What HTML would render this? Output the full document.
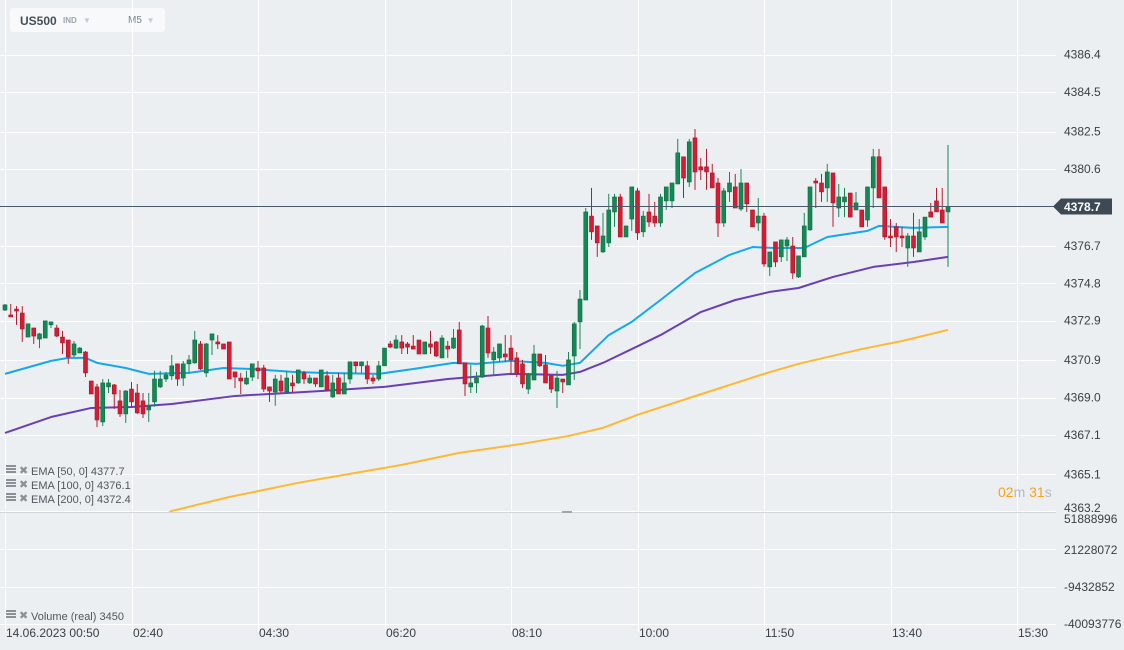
<!DOCTYPE html>
<html><head><meta charset="utf-8">
<style>
html,body{margin:0;padding:0;background:#eceff2;}
body{width:1124px;height:650px;overflow:hidden;position:relative;font-family:"Liberation Sans",sans-serif;}
svg{position:absolute;left:0;top:0;}
.topbar{position:absolute;left:10px;top:8px;width:155px;height:24px;background:#f8f9fa;border-radius:3px;}
</style></head>
<body>
<div class="topbar">
  <span style="position:absolute;left:10px;top:6px;font-size:12px;font-weight:bold;color:#454f59;">US500</span>
  <span style="position:absolute;left:53px;top:8px;font-size:8px;font-weight:bold;color:#9aa4ae;">IND <span style="color:#c5cbd1;font-size:8px;margin-left:4px;">▼</span></span>
  <span style="position:absolute;left:118px;top:7px;font-size:10px;color:#7a848e;">M5 <span style="color:#c5cbd1;font-size:8px;margin-left:2px;">▼</span></span>
</div>
<svg id="chart" width="1124" height="650"></svg>
<script>
const opens=[4373.44,4373.19,4373.49,4373.29,4372.07,4372.53,4371.97,4372.02,4372.69,4372.53,4372.07,4371.92,4371.16,4371.26,4371.31,4369.84,4369.54,4367.76,4369.54,4369.64,4368.83,4368.17,4369.43,4369.23,4368.83,4368.37,4368.78,4369.54,4369.94,4370.10,4370.71,4369.99,4370.71,4370.76,4371.72,4370.25,4371.92,4371.82,4371.72,4371.82,4370.30,4369.99,4369.69,4370.04,4370.50,4370.50,4369.54,4369.28,4369.84,4369.28,4369.74,4369.74,4370.25,4369.74,4369.99,4369.54,4370.10,4369.03,4369.99,4369.18,4369.94,4370.81,4370.61,4370.61,4369.99,4369.94,4370.61,4371.72,4371.51,4371.82,4371.72,4371.61,4371.92,4371.21,4371.72,4371.82,4371.01,4371.61,4371.51,4372.43,4370.76,4369.54,4369.74,4370.04,4372.53,4370.91,4371.01,4371.21,4371.51,4371.01,4370.71,4369.43,4369.89,4371.21,4370.66,4370.10,4369.33,4369.94,4369.64,4371.11,4372.84,4373.95,4378.21,4377.71,4376.39,4376.85,4378.42,4379.18,4377.15,4378.06,4379.49,4377.41,4378.42,4378.21,4377.86,4378.98,4378.98,4379.84,4381.22,4379.94,4382.18,4380.71,4380.71,4380.40,4379.89,4377.86,4379.44,4379.69,4378.57,4379.89,4378.52,4377.86,4378.21,4375.63,4376.90,4376.14,4376.69,4376.69,4375.12,4376.14,4377.51,4379.99,4379.89,4379.64,4380.40,4378.62,4378.93,4379.38,4378.52,4378.52,4378.01,4379.64,4381.22,4379.69,4377.20,4377.66,4377.20,4376.59,4377.20,4376.39,4377.15,4378.42,4378.98,4378.52,4378.42];
const highs=[4373.75,4373.75,4373.64,4373.64,4372.74,4372.53,4372.28,4372.89,4372.84,4372.69,4372.38,4371.92,4371.87,4371.56,4371.36,4369.84,4369.69,4369.94,4369.94,4369.69,4369.38,4369.38,4369.79,4369.69,4369.23,4369.23,4370.35,4370.35,4370.30,4371.16,4370.71,4370.86,4371.16,4372.38,4371.87,4371.77,4372.23,4372.17,4371.72,4371.82,4370.30,4370.25,4370.35,4370.71,4370.86,4370.66,4369.54,4370.15,4370.15,4370.35,4370.15,4370.40,4370.35,4370.15,4369.99,4370.40,4370.35,4370.15,4370.25,4370.25,4370.81,4370.81,4370.81,4370.86,4370.15,4370.86,4371.51,4371.87,4372.17,4372.17,4371.82,4372.17,4371.92,4371.82,4372.38,4371.87,4372.17,4371.87,4372.48,4372.84,4370.76,4370.66,4370.30,4372.69,4373.14,4371.56,4371.72,4372.17,4372.17,4371.31,4370.91,4370.25,4371.67,4371.21,4371.16,4370.10,4370.35,4369.94,4371.31,4372.84,4374.46,4378.62,4379.64,4377.71,4378.37,4379.34,4379.34,4379.34,4377.71,4379.69,4379.64,4378.47,4379.34,4378.93,4379.34,4379.69,4379.89,4382.13,4381.22,4382.13,4382.63,4381.16,4381.62,4380.86,4380.14,4379.64,4380.45,4380.35,4380.60,4379.89,4378.52,4379.13,4378.37,4376.39,4376.90,4377.00,4377.15,4377.15,4376.19,4378.37,4379.69,4380.14,4380.35,4380.86,4380.40,4379.84,4379.64,4379.38,4379.44,4378.52,4379.69,4381.62,4381.62,4379.69,4378.06,4377.86,4377.66,4377.35,4378.37,4378.06,4378.16,4378.88,4379.64,4379.64,4381.82];
const lows=[4373.39,4373.09,4372.69,4371.82,4372.07,4371.72,4371.51,4372.02,4372.53,4372.07,4371.21,4370.71,4371.06,4371.26,4370.04,4369.18,4367.50,4367.55,4369.23,4368.42,4368.02,4367.71,4368.53,4368.17,4367.96,4367.76,4368.53,4369.48,4369.79,4369.89,4369.59,4369.59,4370.25,4370.71,4370.40,4370.04,4371.16,4371.46,4371.46,4369.94,4369.48,4369.18,4369.64,4369.84,4369.94,4369.28,4368.78,4368.58,4369.23,4369.28,4369.28,4369.69,4369.69,4369.69,4369.54,4369.54,4369.33,4368.98,4369.18,4369.18,4369.69,4370.25,4370.25,4369.69,4369.69,4369.84,4370.61,4371.51,4371.46,4371.21,4371.21,4371.46,4371.21,4371.21,4371.21,4371.06,4371.01,4371.01,4371.46,4370.71,4369.08,4369.23,4369.23,4369.99,4371.01,4370.15,4370.81,4370.81,4370.20,4370.04,4369.48,4369.18,4369.89,4370.55,4369.74,4369.23,4368.47,4369.23,4369.64,4369.89,4371.46,4373.95,4377.00,4376.14,4376.34,4376.64,4377.66,4377.15,4377.15,4377.46,4377.00,4377.15,4377.66,4377.66,4377.66,4378.52,4378.62,4379.84,4379.13,4379.69,4379.54,4380.04,4379.54,4379.64,4377.15,4377.66,4378.93,4378.62,4378.47,4378.42,4377.66,4377.46,4375.63,4375.17,4375.63,4375.88,4375.93,4375.02,4375.07,4376.14,4377.46,4378.62,4378.93,4378.93,4377.66,4378.16,4378.16,4378.16,4378.52,4377.66,4377.66,4378.62,4379.13,4377.00,4376.64,4376.39,4376.64,4375.63,4376.14,4376.39,4377.00,4378.16,4378.42,4377.86,4375.63];
const closes=[4373.70,4373.09,4373.39,4372.48,4372.74,4372.12,4372.23,4372.89,4372.84,4372.12,4371.77,4371.06,4371.72,4371.51,4370.25,4369.18,4367.86,4369.74,4369.74,4369.18,4368.17,4369.33,4368.78,4368.22,4368.17,4368.53,4369.94,4369.94,4370.15,4370.61,4369.94,4370.71,4370.91,4371.92,4370.45,4371.72,4372.23,4371.72,4371.46,4369.94,4370.04,4369.84,4369.99,4370.71,4370.35,4369.43,4369.33,4369.94,4369.33,4369.99,4369.59,4370.40,4369.94,4369.99,4369.69,4370.40,4369.38,4369.74,4369.18,4369.74,4370.81,4370.61,4370.81,4369.94,4369.84,4370.61,4371.51,4371.56,4371.92,4371.51,4371.56,4371.46,4371.21,4371.82,4371.56,4371.11,4372.02,4371.46,4372.02,4370.71,4369.69,4369.74,4369.99,4372.63,4371.26,4371.31,4371.72,4371.06,4370.91,4370.20,4369.69,4370.20,4371.21,4370.61,4369.74,4369.43,4369.99,4369.79,4370.91,4372.74,4374.00,4378.42,4377.41,4376.85,4377.20,4378.52,4379.18,4377.15,4377.71,4379.69,4377.36,4378.21,4377.91,4377.86,4379.18,4379.69,4379.89,4381.42,4380.14,4381.98,4380.45,4380.55,4380.45,4379.64,4377.86,4379.49,4379.89,4378.62,4379.89,4378.83,4377.66,4378.21,4375.78,4376.39,4375.88,4377.00,4377.00,4375.32,4376.19,4377.71,4379.69,4379.89,4379.44,4380.45,4378.88,4379.18,4379.18,4378.16,4378.88,4377.66,4379.69,4381.22,4379.13,4377.15,4377.10,4377.15,4377.10,4377.20,4376.59,4377.41,4378.16,4378.16,4378.42,4377.86,4378.70];
const ema50Idx=[0,8,11,14,16,21,25,32,38,43,50,55,65,71,78,82,88,94,97,100,105,109,114,120,126,130,134,139,143,150,152,158,164];
const ema50Val=[4370.20,4370.86,4371.01,4371.01,4370.76,4370.50,4370.20,4370.25,4370.50,4370.45,4370.30,4370.25,4370.20,4370.45,4370.76,4370.71,4370.86,4370.76,4370.61,4370.76,4372.17,4372.84,4373.95,4375.32,4376.24,4376.64,4376.59,4376.59,4377.15,4377.46,4377.71,4377.61,4377.66];
const ema100Idx=[0,8,15,22,29,40,46,55,66,77,88,97,100,104,109,114,121,127,133,138,144,151,158,164];
const ema100Val=[4367.20,4368.01,4368.47,4368.52,4368.67,4369.08,4369.18,4369.33,4369.54,4369.94,4370.20,4370.15,4370.30,4370.76,4371.46,4372.17,4373.34,4373.95,4374.36,4374.56,4375.12,4375.63,4375.88,4376.14];
const ema200Idx=[27,29,39,51,69,79,90,98,104,110,118,125,132,138,149,156,164];
const ema200Val=[4362.90,4363.24,4363.95,4364.67,4365.58,4366.19,4366.65,4367.05,4367.46,4368.12,4368.88,4369.54,4370.20,4370.71,4371.46,4371.87,4372.43];
const priceTicks=["4386.4","4384.5","4382.5","4380.6","4378.7","4376.7","4374.8","4372.9","4370.9","4369.0","4367.1","4365.1","4363.2"];
const volTicks=["51888996","21228072","-9432852","-40093776"];
const timeLabels=["14.06.2023  00:50","02:40","04:30","06:20","08:10","10:00","11:50","13:40","15:30"];
const lastPrice=4378.70;

const NS="http://www.w3.org/2000/svg";
const svg=document.getElementById('chart');
const X=i=>5+i*5.75;
const Y=p=>169+(4380.6-p)*19.7;
function mk(tag,attrs,parent){const e=document.createElementNS(NS,tag);for(const k in attrs)e.setAttribute(k,attrs[k]);(parent||svg).appendChild(e);return e;}
const PR=1056;
const grid=mk('g',{});


priceTicks.forEach(t=>{if(t==="4378.7")return;const y=Math.min(511,Math.round(Y(parseFloat(t))))+0.5;mk('line',{x1:0,x2:PR,y1:y,y2:y,stroke:'#ffffff','stroke-width':1},grid);});
[549,587,624].forEach(y=>mk('line',{x1:0,x2:PR,y1:y+0.5,y2:y+0.5,stroke:'#ffffff','stroke-width':1},grid));
timeLabels.forEach((t,k)=>{const x=Math.round(X(k*22))+0.5;mk('line',{x1:x,x2:x,y1:0,y2:632,stroke:'#ffffff','stroke-width':1},grid);});
mk('line',{x1:0,x2:PR,y1:512.5,y2:512.5,stroke:'#d2d6da','stroke-width':1},grid);
const defs=mk('defs',{});
const cp=mk('clipPath',{id:'pc'},defs);mk('rect',{x:0,y:0,width:PR,height:512},cp);
function emaLine(idx,val,color,name){
  const pts=idx.map((i,k)=>X(i)+','+Y(val[k]));
  const e=mk('polyline',{points:pts.join(' '),fill:'none',stroke:color,'stroke-width':2,'stroke-linejoin':'round','clip-path':'url(#pc)'});
  
  
}
emaLine(ema200Idx,ema200Val,'#fbb934','ema-200-line');
emaLine(ema100Idx,ema100Val,'#6a3fb5','ema-100-line');
emaLine(ema50Idx,ema50Val,'#12a9ec','ema-50-line');
const cg=mk('g',{});


for(let i=0;i<closes.length;i++){
  const up=closes[i]>=opens[i];const col=up?'#138a55':'#d61c35';const x=X(i);
  const g=mk('g',{},cg);
  
  
  mk('line',{x1:x,x2:x,y1:Y(highs[i]),y2:Y(lows[i]),stroke:up?'#138a55':'#b81a2e','stroke-width':1},g);
  const top=Y(Math.max(opens[i],closes[i])),bot=Y(Math.min(opens[i],closes[i]));
  mk('rect',{x:x-2,y:top,width:4,height:Math.max(1,bot-top),fill:col,stroke:up?'#0d6b41':'#a81527','stroke-width':0.6},g);
}
const ly=Math.round(Y(lastPrice))+0.5;
const lp=mk('line',{x1:0,x2:PR,y1:ly,y2:ly,stroke:'#4a5966','stroke-width':1});


const lb=mk('path',{d:`M1053,${ly} L1061,${ly-8} L1112,${ly-8} L1112,${ly+8} L1061,${ly+8} Z`,fill:'#3d4a56'});


const lt=mk('text',{x:1064,y:ly+4.5,fill:'#ffffff','font-size':12,'font-weight':'bold','font-family':'Liberation Sans, sans-serif'});
lt.textContent=lastPrice.toFixed(1);


priceTicks.forEach(t=>{if(t==="4378.7")return;const yy=Math.min(508,Y(parseFloat(t)));const e=mk('text',{x:1064,y:yy+4,fill:'#3a3f44','font-size':12,'font-family':'Liberation Sans, sans-serif'});e.textContent=t;
  
  });
[519,550,587,624].forEach((y,k)=>{const e=mk('text',{x:1064,y:y+4,fill:'#3a3f44','font-size':12,'font-family':'Liberation Sans, sans-serif'});e.textContent=volTicks[k];
  
  });
timeLabels.forEach((t,k)=>{const e=mk('text',{x:Math.round(X(k*22))+1,y:637,fill:'#3a3f44','font-size':12,'font-family':'Liberation Sans, sans-serif','xml:space':'preserve'});e.textContent=t;
  
  });
const leg=[["EMA [50,  0] 4377.7",473],["EMA [100,  0] 4376.1",487],["EMA [200,  0] 4372.4",501],["Volume  (real)  3450",618]];
leg.forEach(([t,y])=>{
  const g=mk('g',{});
  
  
  mk('rect',{x:6,y:y-8,width:10,height:2,fill:'#8a9096'},g);mk('rect',{x:6,y:y-5,width:10,height:2,fill:'#8a9096'},g);mk('rect',{x:6,y:y-2,width:10,height:2,fill:'#8a9096'},g);
  const x=mk('text',{x:19,y:y+1,fill:'#8a9096','font-size':11,'font-weight':'bold','font-family':'DejaVu Sans, sans-serif'},g);x.textContent='✖';
  const e=mk('text',{x:31,y:y+2,fill:'#50565c','font-size':11,'font-family':'Liberation Sans, sans-serif','xml:space':'preserve'},g);e.textContent=t;
});
const cd=mk('text',{x:998,y:497,'font-size':14,'font-family':'Liberation Sans, sans-serif'});


cd.innerHTML='<tspan fill="#f7a21b">02</tspan><tspan fill="#b5bac0">m </tspan><tspan fill="#f7a21b">31</tspan><tspan fill="#b5bac0">s</tspan>';
mk('rect',{x:562,y:511,width:10,height:2,fill:'#a0a6ac'});
</script>
</body></html>
